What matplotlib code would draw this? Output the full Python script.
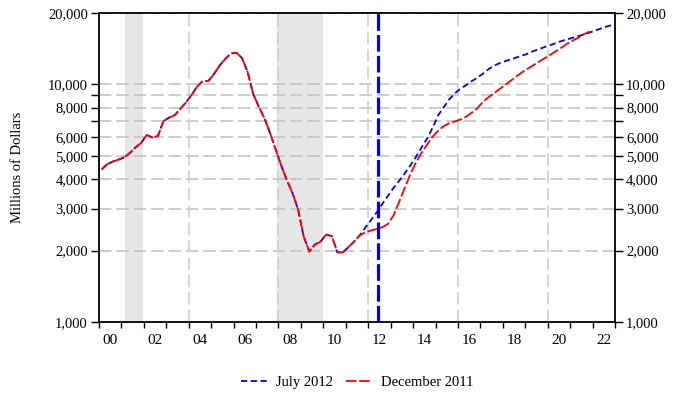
import numpy as np
import pandas as pd
import matplotlib
matplotlib.use('Agg')
import matplotlib.pyplot as plt
import matplotlib.ticker as ticker

# quarterly values, millions of dollars
history = [4395, 4625, 4740, 4831, 4930, 5150, 5430, 5670,
           6130, 5980, 6070, 7020, 7250, 7430, 7890, 8400,
           9030, 9810, 10350, 10350, 11070, 12020, 12800, 13510,
           13610, 12930, 11290, 9100, 8060, 7205, 6250, 5325,
           4550, 3950, 3492, 2977, 2287, 1980, 2120, 2180,
           2335, 2300, 1965, 1965, 2070, 2183, 2320]
july_2012_proj = [2500, 2689, 2892, 3140, 3393, 3666, 3924, 4220, 4559,
                  4951, 5429, 5924, 6592, 7440, 8040, 8688, 9209,
                  9620, 9952, 10345, 10700, 11125, 11620, 12023, 12316,
                  12560, 12770, 13020, 13250, 13506, 13840, 14110, 14385,
                  14667, 14954, 15250, 15500, 15745, 16005, 16240, 16556,
                  16883, 17213, 17550, 17806]
dec_2011_proj = [2386, 2428, 2464, 2505, 2586, 2808, 3201, 3666, 4179,
                 4694, 5148, 5589, 6040, 6403, 6689, 6886, 7000,
                 7123, 7334, 7625, 7962, 8480, 8860, 9209, 9600,
                 10000, 10416, 10860, 11289, 11680, 12082, 12500, 12930,
                 13350, 13840, 14315, 14882, 15320, 15770, 16315, 16720]

recessions = [(2001.17, 2001.95), (2007.92, 2009.97)]
forecast_mark = 2012.45
grid_years = [2004, 2008, 2012, 2016, 2020]
y_major = [1000, 2000, 3000, 4000, 5000, 6000, 8000, 10000, 20000]
y_minor = [7000, 9000]
series_labels = ['July 2012', 'December 2011']


def quarter_mid(n):
    q = pd.period_range('2000Q1', periods=n, freq='Q')
    return q.year + (q.quarter - 1) * 0.25 + 0.125


july = history + july_2012_proj
dec = history + dec_2011_proj

plt.rcParams['font.family'] = ['Liberation Serif', 'DejaVu Serif']
plt.rcParams['font.size'] = 10.5
plt.rcParams['lines.scale_dashes'] = False

fig = plt.figure(figsize=(6.73, 3.96), dpi=100)
ax = fig.add_axes([99 / 673, 1 - 322 / 396, 516 / 673, 309 / 396])

for a, b in recessions:
    ax.axvspan(a, b, color='#e6e6e6', lw=0, zorder=0)

for yr in grid_years:
    ax.axvline(yr, color='#cccccc', lw=1.1, dashes=(9, 3.5), zorder=1)

ax.plot(quarter_mid(len(july)), july, color='#0000ff', lw=1.3,
        dashes=(4.5, 2.5), label=series_labels[0], zorder=3)
ax.plot(quarter_mid(len(dec)), dec, color='#ff0000', lw=1.3,
        dashes=(7.5, 2), label=series_labels[1], zorder=4)
ax.axvline(forecast_mark, color='#0000ff', lw=2.3, dashes=(12, 3), zorder=5)

ax.set_yscale('log')
ax.set_ylim(1000, 20000)
ax.set_xlim(2000, 2023)

ax.yaxis.set_major_locator(ticker.FixedLocator(y_major))
ax.yaxis.set_minor_locator(ticker.FixedLocator(y_minor))
ax.yaxis.set_major_formatter(ticker.FuncFormatter(lambda v, p: f'{v:,.0f}'))
ax.yaxis.set_minor_formatter(ticker.NullFormatter())
ax.set_axisbelow(True)
ax.grid(axis='y', which='both', color='#c0c0c0', lw=1.1, dashes=(9, 3.5))

years = list(range(2000, 2024))
ax.xaxis.set_major_locator(ticker.FixedLocator(years))
ax.xaxis.set_major_formatter(ticker.NullFormatter())
lab_pos = [y + 0.5 for y in range(2000, 2023, 2)]
ax.xaxis.set_minor_locator(ticker.FixedLocator(lab_pos))
ax.xaxis.set_minor_formatter(ticker.FixedFormatter([f'{y % 100:02d}' for y in range(2000, 2023, 2)]))

ax.tick_params(axis='y', which='both', direction='out', length=6, width=1,
               left=True, right=True, labelleft=True, labelright=True, pad=2)
ax.tick_params(axis='x', which='major', direction='out', length=4, width=1)
ax.tick_params(axis='x', which='minor', length=0, pad=9, labelsize=11)

for s in ax.spines.values():
    s.set_linewidth(1.3)
    s.set_zorder(6)

ax.set_ylabel('Millions of Dollars')
ax.yaxis.set_label_coords(-0.145, 0.5)

fig.legend(loc='center', bbox_to_anchor=(357 / 673, 1 - 382 / 396), ncol=2,
           frameon=False, handlelength=1.8, columnspacing=0.9, handletextpad=0.6)

fig.savefig('out.png', dpi=100)
